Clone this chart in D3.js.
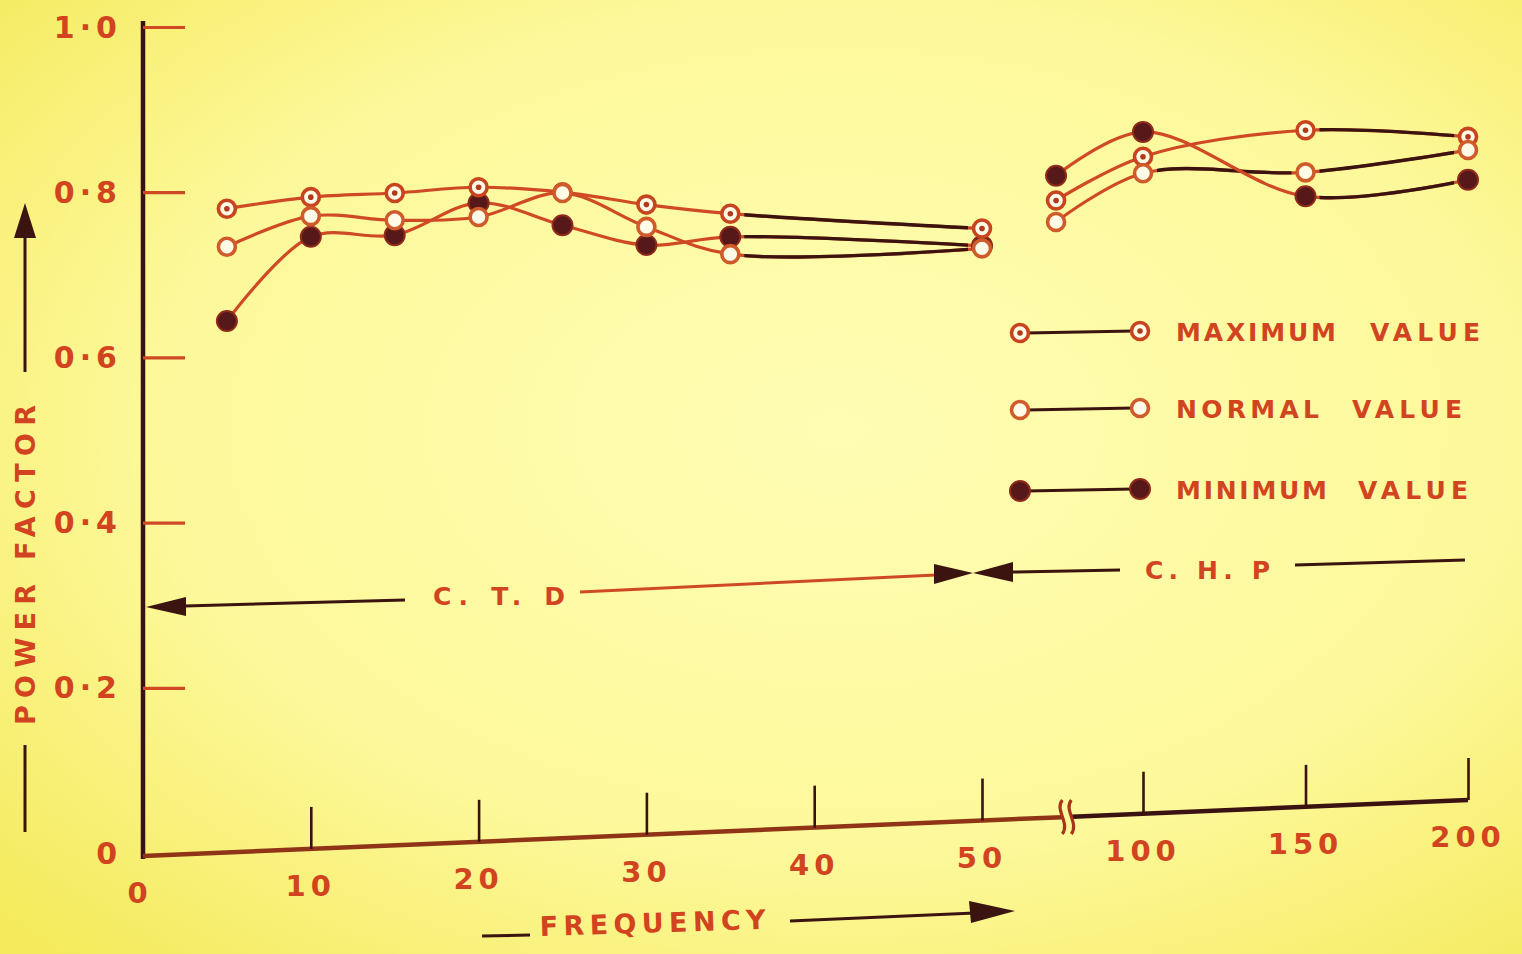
<!DOCTYPE html>
<html>
<head>
<meta charset="utf-8">
<script src="https://cdn.jsdelivr.net/npm/d3@7/dist/d3.min.js"></script>
<style>
html,body{margin:0;padding:0;overflow:hidden;background:#fbf47e;}
svg{display:block;}
text{font-family:"DejaVu Sans",sans-serif;font-weight:bold;fill:#d2441f;}
</style>
</head>
<body>
<svg id="chart" width="1522" height="954"></svg>
<script>
// ---------- DATA ----------
const freqCTD = [5, 10, 15, 20, 25, 30, 35, 50];
const maxCTD  = [0.780, 0.794, 0.799, 0.806, 0.800, 0.785, 0.774, 0.756];
const normCTD = [0.734, 0.771, 0.766, 0.770, 0.799, 0.758, 0.725, 0.732];
const minCTD  = [0.644, 0.746, 0.748, 0.787, 0.760, 0.736, 0.746, 0.735];

const freqCHP = [73, 100, 150, 200];
const maxCHP  = [0.790, 0.843, 0.875, 0.867];
const normCHP = [0.764, 0.823, 0.824, 0.851];
const minCHP  = [0.820, 0.873, 0.795, 0.815];

const yTicks = [0, 0.2, 0.4, 0.6, 0.8, 1.0];
const yTickLabels = ["0", "0·2", "0·4", "0·6", "0·8", "1·0"];
const xTicks = [0, 10, 20, 30, 40, 50, 100, 150, 200];
const xTickLabels = ["0", "10", "20", "30", "40", "50", "100", "150", "200"];

const legendItems = [
  {kind: "max",  word1: "MAXIMUM", word2: "VALUE"},
  {kind: "norm", word1: "NORMAL",  word2: "VALUE"},
  {kind: "min",  word1: "MINIMUM", word2: "VALUE"}
];

// ---------- SETUP ----------
const svg = d3.select("#chart");
const W = 1522, H = 954;
const ORANGE = "#cf4a24", DARK = "#3b1410", AXISDARK = "#3a1212";

const defs = svg.append("defs");
const grad = defs.append("radialGradient").attr("id", "bg")
  .attr("cx", "55%").attr("cy", "45%").attr("r", "75%");
grad.append("stop").attr("offset", "0%").attr("stop-color", "#fffdb4");
grad.append("stop").attr("offset", "60%").attr("stop-color", "#fdf89a");
grad.append("stop").attr("offset", "100%").attr("stop-color", "#f4ea5c");
svg.append("rect").attr("width", W).attr("height", H).attr("fill", "url(#bg)");

const y = d3.scaleLinear().domain([0, 1]).range([853, 27]);
const x = d3.scaleLinear().domain([0, 50, 100, 200]).range([143, 982, 1143, 1468]);

// ---------- Y AXIS ----------
svg.append("line").attr("x1", 143).attr("x2", 143).attr("y1", 21).attr("y2", 859)
  .attr("stroke", AXISDARK).attr("stroke-width", 4.5);

const yAxisG = svg.append("g").attr("transform", "translate(143,0)")
  .call(d3.axisRight(y).tickValues(yTicks.filter(v => v > 0)).tickSize(42).tickFormat(""));
yAxisG.select(".domain").remove();
yAxisG.selectAll(".tick line").attr("stroke", ORANGE).attr("stroke-width", 3.2);

svg.append("g").selectAll("text").data(yTicks).join("text")
  .attr("x", 122).attr("y", d => y(d)).attr("text-anchor", "end")
  .attr("dominant-baseline", "central")
  .style("font-size", "30px").style("letter-spacing", "5px")
  .text((d, i) => yTickLabels[i]);

// Y axis title
svg.append("text")
  .attr("transform", "translate(25,565) rotate(-90)")
  .attr("text-anchor", "middle").attr("dominant-baseline", "central")
  .attr("textLength", 320).attr("lengthAdjust", "spacing")
  .style("font-size", "27px")
  .text("POWER  FACTOR");
svg.append("line").attr("x1", 25).attr("x2", 25).attr("y1", 372).attr("y2", 232)
  .attr("stroke", DARK).attr("stroke-width", 3);
svg.append("path").attr("d", "M25,203 L14,238 L36,238 Z").attr("fill", DARK);
svg.append("line").attr("x1", 25).attr("x2", 25).attr("y1", 745).attr("y2", 832)
  .attr("stroke", DARK).attr("stroke-width", 3);

// ---------- X AXIS (tilted baseline as in the photograph, vertical ticks) ----------
const slope = -56 / 1325;
const base = px => 856 + (px - 143) * slope;
const xg = svg.append("g");
xg.append("line").attr("x1", x(0)).attr("x2", x(75)).attr("y1", base(x(0))).attr("y2", base(x(75)))
  .attr("stroke", "#8f3416").attr("stroke-width", 4.5);
xg.append("line").attr("x1", x(78)).attr("x2", x(200)).attr("y1", base(x(78))).attr("y2", base(x(200)))
  .attr("stroke", AXISDARK).attr("stroke-width", 4.5);
xTicks.filter(v => v > 0).forEach(v => {
  const g = xg.append("g").attr("transform", `translate(0,${base(x(v))})`)
    .call(d3.axisTop(x).tickValues([v]).tickSize(42).tickFormat(""));
  g.select(".domain").remove();
  g.selectAll(".tick line").attr("stroke", AXISDARK).attr("stroke-width", 2.6);
});
// break mark
const bx = x(76.5), by = base(bx);
xg.append("path")
  .attr("d", `M${bx-5},${by-17} C${bx-13},${by-7} ${bx+3},${by+6} ${bx-5},${by+17} M${bx+4},${by-17} C${bx-4},${by-7} ${bx+12},${by+6} ${bx+4},${by+17}`)
  .attr("fill", "none").attr("stroke", "#a8351a").attr("stroke-width", 3.2);
xg.selectAll("text.xl").data(xTicks).join("text").attr("class", "xl")
  .attr("x", d => x(d) + (d === 0 ? -3 : 0)).attr("y", d => base(x(d)) + 37)
  .attr("text-anchor", "middle").attr("dominant-baseline", "central")
  .style("font-size", "29px").style("letter-spacing", "5px")
  .text((d, i) => xTickLabels[i]);

// X axis title
svg.append("line").attr("x1", 482).attr("x2", 530).attr("y1", 936).attr("y2", 935)
  .attr("stroke", DARK).attr("stroke-width", 3);
svg.append("text")
  .attr("transform", "translate(540,936) rotate(-1.8)")
  .attr("textLength", 226).attr("lengthAdjust", "spacing")
  .style("font-size", "27px")
  .text("FREQUENCY");
svg.append("line").attr("x1", 790).attr("x2", 975).attr("y1", 921).attr("y2", 913)
  .attr("stroke", DARK).attr("stroke-width", 3.2);
svg.append("path").attr("d", "M1015,911 L969,901 L971,923 Z").attr("fill", DARK);

// ---------- C.T.D / C.H.P annotations ----------
svg.append("path").attr("d", "M146,607 L186,597 L186,616 Z").attr("fill", DARK);
svg.append("line").attr("x1", 185).attr("x2", 405).attr("y1", 606).attr("y2", 600)
  .attr("stroke", DARK).attr("stroke-width", 3);
svg.append("text").attr("x", 433).attr("y", 605)
  .attr("textLength", 132).attr("lengthAdjust", "spacing")
  .style("font-size", "25px").text("C. T. D");
svg.append("line").attr("x1", 580).attr("x2", 936).attr("y1", 592).attr("y2", 575)
  .attr("stroke", ORANGE).attr("stroke-width", 3);
svg.append("path").attr("d", "M934,564 L973,573 L934,584 Z M1013,562 L973,573 L1013,582 Z").attr("fill", DARK);
svg.append("line").attr("x1", 1012).attr("x2", 1120).attr("y1", 572).attr("y2", 570)
  .attr("stroke", DARK).attr("stroke-width", 3);
svg.append("text").attr("x", 1145).attr("y", 579)
  .attr("textLength", 125).attr("lengthAdjust", "spacing")
  .style("font-size", "25px").text("C. H. P");
svg.append("line").attr("x1", 1295).attr("x2", 1465).attr("y1", 565).attr("y2", 560)
  .attr("stroke", DARK).attr("stroke-width", 3);

// ---------- MARKERS ----------
function marker(g, kind, cx, cy) {
  if (kind === "min") {
    g.append("circle").attr("cx", cx).attr("cy", cy).attr("r", 10)
      .attr("fill", "#561818").attr("stroke", "#8e2a1c").attr("stroke-width", 2);
  } else {
    g.append("circle").attr("cx", cx).attr("cy", cy).attr("r", 8.5)
      .attr("fill", "#fffbe6").attr("stroke", kind === "max" ? "#c8441e" : "#cf5a2a")
      .attr("stroke-width", 3.6);
    if (kind === "max") {
      g.append("circle").attr("cx", cx).attr("cy", cy).attr("r", 2.8).attr("fill", "#b03a1a");
    }
  }
}

// ---------- SERIES ----------
const lineGen = d3.line().x(d => x(d[0])).y(d => y(d[1])).curve(d3.curveCatmullRom.alpha(0.5));
const series = [
  {kind: "max",  freq: freqCTD, vals: maxCTD,  dark: [6]},
  {kind: "norm", freq: freqCTD, vals: normCTD, dark: [6]},
  {kind: "min",  freq: freqCTD, vals: minCTD,  dark: [6]},
  {kind: "max",  freq: freqCHP, vals: maxCHP,  dark: [2]},
  {kind: "norm", freq: freqCHP, vals: normCHP, dark: [1, 2]},
  {kind: "min",  freq: freqCHP, vals: minCHP,  dark: [2]}
];
const linesG = svg.append("g");
let clipId = 0;
series.forEach(s => {
  const pts = s.freq.map((f, i) => [f, s.vals[i]]);
  const d = lineGen(pts);
  linesG.append("path").attr("d", d).attr("fill", "none")
    .attr("stroke", ORANGE).attr("stroke-width", 3.2);
  s.dark.forEach(i => {
    const x0 = x(s.freq[i]) + 14, x1 = x(s.freq[i + 1]) - 14;
    const id = "clip" + (clipId++);
    defs.append("clipPath").attr("id", id).append("rect")
      .attr("x", x0).attr("y", 0).attr("width", Math.max(0, x1 - x0)).attr("height", H);
    linesG.append("path").attr("d", d).attr("fill", "none")
      .attr("clip-path", `url(#${id})`)
      .attr("stroke", DARK).attr("stroke-width", 3.4);
  });
});
const markG = svg.append("g");
["min", "max", "norm"].forEach(k => {
  series.filter(s => s.kind === k).forEach(s => {
    s.freq.forEach((f, i) => marker(markG, s.kind, x(f), y(s.vals[i])));
  });
});

// ---------- LEGEND ----------
const legRows = [332, 409, 490];
const word1Len = [160, 143, 151];
const word2X = [1370, 1352, 1358];
const legG = svg.append("g");
legendItems.forEach((it, i) => {
  const ly = legRows[i];
  legG.append("line").attr("x1", 1026).attr("x2", 1134).attr("y1", ly + 1).attr("y2", ly - 1)
    .attr("stroke", DARK).attr("stroke-width", 3);
  marker(legG, it.kind, 1020, ly + 1);
  marker(legG, it.kind, 1140, ly - 1);
  legG.append("text").attr("x", 1176).attr("y", ly + 9)
    .attr("textLength", word1Len[i]).attr("lengthAdjust", "spacing")
    .style("font-size", "25px").text(it.word1);
  legG.append("text").attr("x", word2X[i]).attr("y", ly + 9)
    .attr("textLength", 110).attr("lengthAdjust", "spacing")
    .style("font-size", "25px").text(it.word2);
});
</script>
</body>
</html>
